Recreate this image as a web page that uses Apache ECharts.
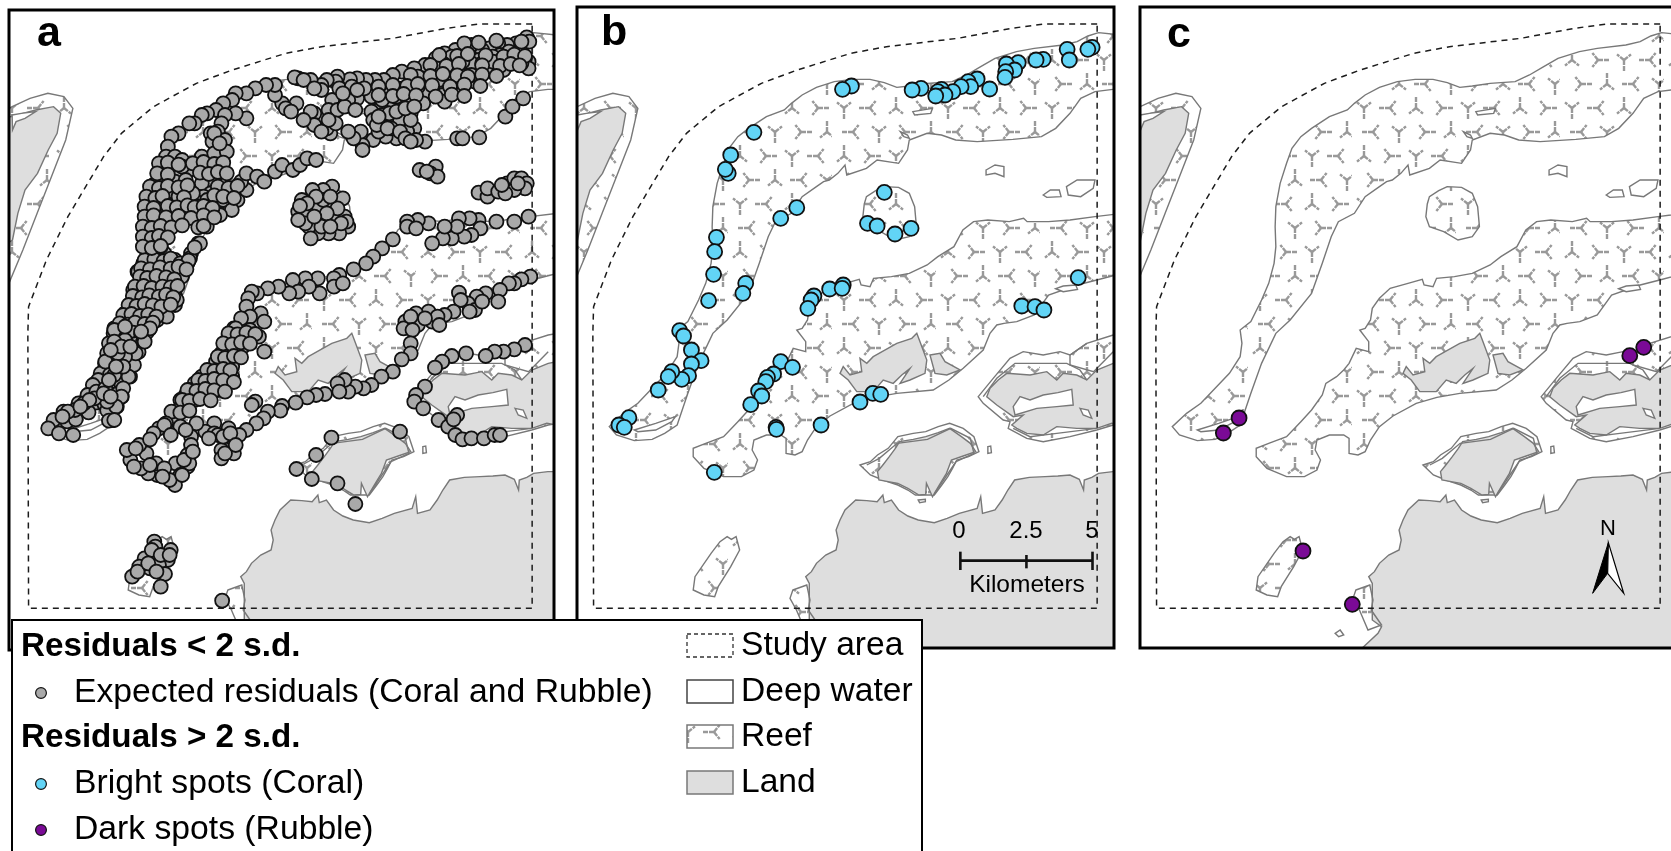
<!DOCTYPE html>
<html><head><meta charset="utf-8"><title>Residual maps</title>
<style>html,body{margin:0;padding:0;background:#fff}#c{width:1671px;height:851px}</style>
<script src="https://cdn.jsdelivr.net/npm/echarts@6/dist/echarts.min.js"></script></head>
<body><div id="c"></div>
<script>
// Map units: x 2.8 per pixel, y 3 per pixel, shared by all three panels.
const panelLabels = ['a','b','c'];
const legendHeaders = ['Residuals < 2 s.d.','Residuals > 2 s.d.'];
const legendPoints = ['Expected residuals (Coral and Rubble)','Bright spots (Coral)','Dark spots (Rubble)'];
const legendAreas = ['Study area','Deep water','Reef','Land'];
const scaleLabels = ['0','2.5','5'];

const studyArea = [[1490,72],[1340,72],[1250,85],[1100,115],[900,140],[800,160],[650,210],[550,250],[430,320],[340,400],[290,470],[240,560],[190,650],[130,780],[80,920],[78,1000],[80,1825],[1490,1825],[1490,72]];

const reefNorth = [[1560,105],[1494,98],[1464,108],[1434,125],[1394,135],[1314,145],[1264,155],[1204,175],[1164,200],[1124,225],[1084,245],[1014,250],[964,258],[929,262],[894,248],[854,238],[804,238],[754,245],[704,262],[664,285],[634,310],[614,330],[564,350],[514,385],[484,410],[459,445],[444,490],[426,550],[414,620],[412,680],[414,740],[409,790],[394,850],[374,900],[344,965],[314,990],[319,1030],[314,1070],[284,1120],[244,1165],[204,1210],[164,1240],[124,1280],[144,1305],[194,1322],[244,1318],[279,1300],[314,1275],[344,1180],[374,1090],[414,1000],[454,960],[514,880],[544,790],[569,710],[589,665],[634,640],[664,590],[704,560],[724,545],[740,540],[764,520],[784,495],[789,525],[844,505],[874,480],[934,490],[959,450],[964,420],[1014,400],[1054,405],[1094,420],[1154,425],[1254,418],[1334,410],[1374,385],[1414,340],[1444,295],[1484,275],[1534,268],[1560,268]];
const reefCentral = [[1560,640],[1484,650],[1414,660],[1354,665],[1294,665],[1284,655],[1244,665],[1184,660],[1144,665],[1114,690],[1089,740],[1044,770],[1014,795],[964,820],[914,830],[864,835],[854,860],[829,855],[824,838],[784,850],[734,865],[704,895],[684,925],[679,960],[664,985],[649,990],[674,1025],[674,1055],[639,1045],[619,1090],[604,1110],[584,1130],[554,1150],[544,1185],[514,1230],[484,1265],[444,1310],[394,1330],[359,1345],[359,1370],[389,1405],[444,1430],[494,1430],[529,1410],[539,1380],[524,1350],[529,1320],[564,1305],[604,1305],[619,1315],[619,1360],[644,1365],[664,1355],[679,1320],[704,1280],[742,1248],[807,1210],[865,1192],[929,1180],[1031,1170],[1075,1140],[1115,1105],[1171,1050],[1190,1000],[1209,975],[1229,970],[1265,965],[1314,945],[1354,885],[1434,855],[1489,840],[1560,820]];
const reefRound = [[894,560],[870,572],[844,590],[838,612],[834,650],[844,680],[884,695],[924,720],[964,710],[984,680],[979,620],[964,580],[934,562]];
const reefSouthWest = [[454,1610],[466,1618],[479,1610],[489,1650],[464,1700],[429,1760],[419,1790],[389,1785],[359,1770],[364,1730],[409,1660],[434,1625]];
const reefNorthWest = [[0,340],[34,320],[84,295],[134,280],[179,290],[204,325],[184,420],[144,530],[104,640],[64,750],[25,850],[0,880]];
const reefEastRing = [[1560,1000],[1535,1005],[1461,1030],[1414,1065],[1386,1055],[1339,1065],[1283,1055],[1246,1075],[1199,1135],[1157,1190],[1171,1210],[1227,1260],[1246,1265],[1241,1285],[1293,1315],[1339,1325],[1414,1310],[1489,1290],[1535,1275],[1560,1270]];
const reefMiddleRing = [[826,1395],[855,1385],[875,1365],[905,1345],[932,1310],[975,1300],[1010,1295],[1045,1280],[1077,1270],[1115,1285],[1145,1310],[1159,1355],[1130,1370],[1097,1380],[1085,1405],[1072,1430],[1055,1455],[1034,1485],[981,1485],[960,1470],[932,1455],[890,1440],[855,1425]];
const reefCoastStrip = [[638,1770],[677,1755],[686,1800],[681,1830],[710,1875],[672,1890],[648,1830],[630,1795]];
const islets = [
  [[1179,510],[1204,495],[1229,500],[1229,530],[1204,520],[1179,525]],
  [[1434,540],[1484,540],[1479,565],[1444,590],[1409,585],[1404,560]],
  [[1339,585],[1359,570],[1384,570],[1389,590],[1349,592]],
  [[1184,1340],[1192,1338],[1194,1358],[1184,1360]],
  [[989,1500],[1009,1498],[1009,1505],[993,1508]],
  [[580,1900],[594,1890],[604,1905],[590,1910]]
];
const lagoons = [
  [[974,335],[1029,325],[1024,340],[979,345]],
  [[939,395],[959,405],[964,415],[949,410]],
  [[194,1290],[254,1270],[309,1250],[299,1265],[254,1290],[204,1295]],
  [[1374,866],[1395,858],[1430,855],[1435,868],[1395,875]],
  [[34,345],[60,340],[100,335],[70,355],[45,365],[35,390]],
  [[1255,1220],[1274,1190],[1302,1200],[1339,1185],[1380,1178],[1419,1168],[1423,1215],[1377,1220],[1321,1225],[1260,1245]],
  [[1442,1225],[1465,1230],[1475,1255],[1451,1245]]
];
const landNorthWest = [[0,345],[30,350],[100,330],[150,320],[170,340],[160,400],[135,450],[105,520],[70,570],[50,640],[35,720],[0,745]];
const landPeninsula = [[863,1070],[929,1030],[971,1015],[985,1000],[994,1025],[1013,1080],[1008,1120],[966,1140],[938,1150],[966,1105],[943,1125],[919,1150],[891,1140],[863,1175],[817,1175],[793,1140],[770,1120],[779,1100],[798,1125],[831,1115],[826,1075],[845,1090]];
const landPeninsulaEast = [[1022,1065],[1050,1060],[1064,1085],[1106,1110],[1069,1125],[1036,1120]];
const landEast = [[1181,1190],[1190,1165],[1213,1140],[1237,1120],[1302,1125],[1349,1115],[1377,1140],[1395,1120],[1433,1125],[1461,1140],[1489,1110],[1535,1090],[1560,1085],[1560,1275],[1531,1270],[1489,1285],[1433,1285],[1377,1280],[1339,1305],[1293,1300],[1265,1285],[1251,1275],[1283,1245],[1255,1250],[1209,1215]];
const landMiddle = [[875,1415],[890,1395],[908,1370],[925,1345],[937,1325],[975,1318],[1010,1310],[1045,1298],[1077,1285],[1110,1310],[1135,1330],[1150,1355],[1115,1368],[1082,1380],[1075,1400],[1068,1420],[1048,1455],[1029,1490],[1012,1450],[1010,1483],[991,1485],[960,1465],[932,1450],[905,1445],[879,1440]];
const landSouth = [[1560,1415],[1534,1415],[1494,1420],[1475,1432],[1454,1440],[1452,1470],[1440,1438],[1414,1425],[1380,1428],[1344,1430],[1300,1432],[1259,1440],[1240,1470],[1224,1500],[1204,1530],[1169,1540],[1164,1490],[1154,1525],[1104,1540],[1070,1555],[1034,1568],[989,1560],[960,1548],[934,1530],[914,1500],[894,1508],[890,1485],[874,1505],[845,1502],[814,1500],[784,1530],[770,1560],[759,1590],[765,1620],[759,1650],[730,1665],[704,1690],[690,1715],[674,1730],[684,1750],[684,1860],[710,1880],[700,1900],[650,1950],[1560,1950]];
const coastRings = [
  [[1171,1190],[1209,1135],[1260,1090],[1339,1090],[1405,1090],[1442,1110],[1461,1140]],
  [[1255,1285],[1302,1310],[1377,1300],[1489,1285]],
  [[1461,1030],[1414,1065],[1414,1095],[1480,1115],[1535,1055]],
  [[845,1395],[880,1375],[930,1330],[1015,1318],[1080,1285],[1135,1315],[1145,1360],[1095,1385],[1060,1440],[1035,1480]]
];
const scaleBar = [[[1107,1682],[1477,1682]],[[1107,1655],[1107,1710]],[[1292,1665],[1292,1705]],[[1477,1655],[1477,1710]]];
const northArrowLeft = [[1345,1628],[1301,1780],[1343,1720]];
const northArrowRight = [[1345,1628],[1388,1780],[1343,1720]];

const expectedResiduals = [
[1475,112],[1482,125],[1445,130],[1420,135],[1395,130],[1370,145],[1350,150],[1320,135],[1300,155],[1275,150],[1245,160],[1220,175],[1190,195],[1160,205],[1125,215],[1100,225],[1075,240],[1050,240],[1025,240],[1000,235],[980,238],[945,230],[940,245],[915,240],[900,255],[870,240],[835,235],[825,232],[850,240],
[1480,185],[1470,175],[1440,185],[1410,210],[1385,195],[1360,205],[1335,220],[1305,210],[1270,210],[1240,215],[1215,225],[1190,240],[1170,230],[1150,270],[1130,265],[1115,265],[1085,285],[1040,290],[1000,295],[975,300],[930,300],[900,270],[880,265],[950,265],[985,260],[1020,265],[1060,260],
[1480,205],[1450,160],[1425,155],[1400,165],[1380,170],[1340,180],[1320,190],[1295,185],[1265,170],[1240,190],[1330,245],[1300,240],[1275,245],[1250,250],[1225,265],[1200,275],[1240,285],[1245,305],[1185,310],[1150,310],[1120,320],[1090,320],[1060,330],[1040,335],[1045,360],[1075,365],[1100,350],[1130,345],[1150,340],[1120,360],[1160,385],[1140,395],[1110,415],[1080,410],[1045,420],[1015,435],[1015,450],[1010,395],[990,415],[975,395],[925,400],[915,385],[905,350],[880,340],[870,335],[880,375],[850,360],[920,330],[945,330],[965,320],[995,330],[830,310],[790,310],[800,325],[815,335],[770,285],[770,255],[745,255],[715,265],[690,280],[660,280],[650,300],[625,310],[605,330],[580,340],[565,345],[545,370],[530,370],[690,355],[660,340],[630,345],[620,370],[610,395],[590,400],[595,425],[630,420],[500,400],[480,410],[470,440],[465,470],[490,470],[510,480],[450,500],[445,525],[500,515],[530,510],[565,470],[600,460],[635,455],[610,500],[600,545],[565,550],[590,580],[570,590],[545,600],[510,570],[490,545],[430,555],[415,600],[450,620],[480,590],[480,640],[520,655],[555,620],[580,625],[610,640],[645,625],[665,600],[645,570],[690,570],[675,545],[690,520],[720,530],[740,545],[770,515],[790,495],[820,510],[840,495],[860,475],[885,480],[410,655],[440,670],[470,690],[410,705],[440,720],[460,760],[420,770],[400,800],[385,815],[445,790],[470,810],[490,830],[510,825],[525,790],[535,760],[555,730],[490,780],[385,870],[420,850],[450,840],[440,890],[490,885],[490,915],[460,945],[430,935],[395,910],[350,940],[420,975],[385,960],[320,985],
[430,600],[450,580],[465,610],[500,620],[530,600],[420,630],[440,650],[460,660],[425,685],[445,700],[430,745],[450,740],[410,785],[430,810],[415,830],[440,820],[400,850],[380,890],[410,885],[425,905],[465,860],[470,895],[405,940],[440,960],[365,965],[340,975],[510,500],[470,500],[520,540],[540,580],[500,590],[580,600],[600,610],[625,600],[530,630],[495,660],[600,400],[615,430],[1210,250],[1230,240],[1260,230],[1290,225],[1320,225],[1350,190],[1380,185],[1430,175],[1460,190],[1215,200],[1230,195],[1170,260],[1095,300],[1070,300],[1110,290],[1145,290],[1000,270],[960,280],[1150,360],[1095,385],[1060,395],[940,370],[920,360],[900,395],
[420,610],[415,660],[406,730],[420,770],[401,790],[387,815],[373,870],[387,870],[355,940],[322,990],[317,1020],[294,1090],[285,1140],[317,1260],[649,630],[616,645],[579,680],[560,730],[532,775],[509,830],[490,860],[495,900],[467,950],[420,985],[373,1095],[364,1130],[341,1190],[327,1220],
[405,780],[432,778],[458,783],[478,776],[505,790],[528,782],[395,805],[420,808],[448,802],[478,806],[500,800],[522,808],[392,830],[412,834],[438,828],[465,832],[488,838],[378,860],[402,858],[425,864],[455,860],[478,862],[497,858],[372,888],[398,892],[418,886],[445,890],[465,884],[485,892],[360,915],[382,918],[405,912],[428,916],[452,920],[478,914],[345,945],[368,942],[392,948],[415,944],[438,950],[335,970],[358,974],[378,968],[405,972],[428,968],[318,1000],[345,1004],[372,998],[395,1002],[412,996],[305,1030],[330,1034],[355,1028],[380,1032],[400,1026],[300,1060],[322,1064],[345,1058],[368,1062],[388,1056],[305,1090],[328,1094],[350,1088],[372,1092],[282,1120],[308,1124],[335,1118],[352,1122],[268,1150],[292,1154],[318,1148],[340,1152],[255,1180],[278,1184],[302,1178],[328,1182],[220,1210],[245,1214],[268,1208],[292,1212],[318,1206],[178,1235],[200,1239],[225,1233],[248,1237],[300,1231],[165,1260],[188,1264],[212,1258],[305,1262],
[445,490],[470,488],[500,494],[540,490],[570,486],[600,492],[625,488],[440,520],[470,524],[560,518],[585,522],[610,516],[635,520],[420,560],[445,564],[470,558],[500,562],[525,556],[610,560],[640,564],[665,558],[410,590],[435,594],[455,588],[515,592],[600,586],[625,590],[655,594],[405,620],[430,624],[470,618],[495,622],[525,616],[545,622],[570,618],[595,624],[405,650],[430,646],[465,652],[500,648],[535,654],[570,646],[600,652],[400,680],[425,684],[450,678],[480,682],[510,676],[555,682],[570,678],[400,710],[425,714],[445,708],[470,712],[400,740],[425,744],[450,738],[545,742],
[1460,125],[1390,122],[1340,128],[1300,130],[1230,165],[1280,168],[1310,162],[1360,166],[1410,170],[1440,164],[1470,168],[1205,195],[1250,198],[1285,192],[1350,196],[1400,198],[1430,192],[1455,196],[1150,225],[1205,228],[1240,222],[1280,226],[1310,230],[1350,224],[1390,228],[1100,255],[1140,258],[1170,252],[1210,256],[1260,260],[1300,254],[1345,258],[1060,285],[1100,288],[1130,282],[1165,286],[1220,290],[1265,284],[1300,288],[1070,345],[1090,340],[1110,335],[1135,325],[1160,320],[1055,375],[1085,385],[1120,395],[1135,415],[1060,350],
[930,560],[905,570],[875,570],[845,600],[960,595],[885,620],[930,625],[835,635],[965,650],[905,655],[860,640],[935,660],[880,680],[975,680],[950,700],[920,700],[890,700],[865,680],[870,715],[905,600],[945,625],[855,670],[835,660],[900,680],[970,665],[925,590],[885,590],[860,610],[840,618],[915,640],[880,650],[955,670],[925,680],
[1175,510],[1220,500],[1205,520],[1225,530],[1195,515],
[1340,578],[1365,590],[1365,565],[1395,575],[1420,550],[1440,535],[1460,535],[1475,550],[1470,565],[1440,570],[1415,580],[1405,555],[1450,550],
[1280,415],[1295,415],[1342,412],[1415,350],[1435,320],[1465,295],[1190,425],[1165,420],[1150,425],
[1480,650],[1440,665],[1390,665],[1340,660],[1315,655],[1285,655],[1345,685],[1320,705],[1300,710],[1265,715],[1240,715],[1210,730],[1280,680],[1245,680],[1200,670],[1170,660],[1140,665],[1140,680],[1165,685],[1100,718],[1070,745],[1045,770],[1025,790],[990,808],[950,825],[935,835],[935,860],[960,850],[890,835],[895,880],[855,835],[820,840],[865,860],[835,875],[810,880],[780,860],[750,865],[720,880],[705,875],[695,895],[690,920],[730,940],[700,950],[675,955],[740,965],[655,985],
[1485,830],[1460,838],[1440,850],[1425,850],[1400,870],[1395,905],[1360,880],[1335,890],[1310,910],[1285,878],[1290,900],[1270,935],[1245,945],[1200,935],[1165,940],[1135,965],[1210,965],[1170,975],[1130,985],[1330,930],[1350,905],[1315,935],[1225,950],[1190,955],[1150,950],[1230,975],
[320,990],[350,1020],[320,1025],[420,985],[405,1025],[375,1095],[295,1085],[360,1130],[320,1125],[275,1140],[345,1165],[340,1190],[260,1155],[245,1185],[270,1175],[325,1220],[235,1210],[210,1230],[190,1235],[150,1260],[320,1260],[135,1285],[165,1300],[205,1305],[300,1205],[265,1195],[295,1165],[380,1060],[350,1070],[330,1060],[350,980],[395,995],[340,1040],[365,1040],[310,1050],[345,1100],[325,1100],[305,1140],[290,1180],[250,1200],[225,1220],[175,1250],[310,1190],
[660,985],[640,1005],[700,990],[725,1010],[740,1055],[630,1040],[660,1050],[605,1085],[640,1080],[625,1100],[590,1115],[565,1130],[650,1130],[635,1150],[545,1150],[590,1160],[610,1170],[530,1170],[505,1200],[545,1200],[580,1185],[500,1230],[485,1250],[715,1205],[705,1215],[670,1010],[680,1040],[620,1060],[650,1100],[610,1130],[570,1160],[535,1190],[520,1185],[555,1175],
[640,1000],[665,1003],[690,998],[715,1002],[625,1030],[650,1033],[675,1027],[700,1031],[610,1070],[630,1074],[655,1068],[675,1072],[580,1110],[600,1113],[625,1107],[645,1111],[555,1140],[575,1143],[600,1137],[625,1141],[655,1146],[525,1170],[550,1173],[575,1167],[600,1171],[630,1175],[510,1200],[530,1203],[560,1197],[590,1201],[480,1235],[505,1238],[530,1232],[465,1270],[445,1285],
[1470,1035],[1440,1048],[1410,1055],[1385,1055],[1360,1068],[1305,1060],[1265,1068],[1238,1085],[1218,1103],[1190,1160],[1165,1185],[1160,1205],[1185,1225],[1228,1260],[1255,1280],[1275,1305],[1295,1318],[1320,1315],[1355,1315],[1385,1305],[1400,1305],[1280,1245],[1270,1258],
[1155,990],[1150,1030],[1150,1060],[1125,1078],[1100,1115],[1068,1130],[1040,1155],[1018,1165],[995,1160],[975,1175],[965,1140],[945,1150],[950,1175],[910,1182],[885,1185],[860,1192],[828,1208],[790,1218],[785,1232],[750,1235],[738,1255],[718,1270],[690,1290],[640,1285],[640,1340],[620,1350],[655,1360],[620,1375],[600,1270],[575,1295],[550,1270],[505,1280],[460,1275],[430,1300],[535,1310],[535,1335],[525,1365],[492,1390],[505,1425],[525,1400],[490,1455],[475,1440],[440,1425],[415,1420],[437,1390],[395,1405],[410,1360],[390,1335],[365,1380],[355,1350],[380,1345],[420,1318],[478,1305],[600,1300],[655,1320],[670,1305],[610,1305],[530,1390],[460,1405],[510,1425],[625,1310],[645,1300],[630,1360],[660,1335],[515,1380],[540,1355],[375,1400],[455,1430],[420,1395],[520,1290],[585,1315],
[928,1313],[885,1365],[830,1407],[873,1437],[945,1450],[1120,1295],[995,1512],
[432,1625],[478,1650],[470,1680],[405,1675],[445,1695],[420,1705],[390,1700],[370,1730],[462,1722],[450,1760],[435,1640],[385,1715],[622,1802],[425,1650],[415,1690],[450,1665],[438,1715],[475,1665]
];
const brightSpots = [
[1476,142],[1464,148],[1406,148],[1412,180],[1339,178],[1319,180],[1269,188],[1236,192],[1259,210],[1234,215],[1232,232],[1189,267],[1154,237],[1129,245],[1136,260],[1109,260],[1086,275],[1054,268],[1044,275],[1064,285],[1038,288],[997,265],[972,270],[802,258],[777,268],[529,397],[464,465],[457,520],[449,508],[649,623],[604,655],[894,577],[847,670],[874,678],[969,685],[924,702],[424,712],[419,755],[416,823],[506,850],[498,880],[402,902],[697,888],[689,900],[680,925],[741,867],[779,855],[776,865],[1437,833],[1279,918],[1316,920],[1341,930],
[321,992],[332,1008],[354,1050],[381,1082],[354,1092],[346,1127],[327,1138],[299,1115],[289,1130],[261,1170],[179,1253],[151,1275],[166,1282],[604,1085],[637,1102],[584,1122],[567,1132],[562,1145],[542,1173],[551,1188],[520,1214],[591,1282],[592,1288],[717,1275],[826,1206],[862,1180],[884,1183],[418,1417]
];
const darkSpots = [[1444,1042],[1405,1067],[311,1254],[267,1299],[490,1653],[628,1813]];

const OUTLINE = '#787878', LAND = '#dedede', DASH = '#1c1c1c';
const COLORS = {grey:'#a9a9a9', blue:'#62d4f6', purple:'#7a0a96'};

function makeHatch(){
  const t = document.createElement('canvas'); t.width = 104; t.height = 96;
  const g = t.getContext('2d');
  g.strokeStyle = '#999'; g.lineWidth = 2.4; g.setLineDash([5,1]); g.lineCap = 'butt';
  const turns = [1.57,3.14,-1.57,0, 3.14,1.57,0,-1.57, -1.57,0,1.57,3.14, 0,-1.57,3.14,1.57];
  let k = 0;
  for(let r=0;r<4;r++) for(let c=0;c<4;c++){
    const cx = 12+c*26+(r%2?9:0), cy = 12+r*24, a = turns[k++];
    const arms = [[a,11],[a+2.25,9],[a-2.25,9]];
    arms.forEach(m=>{ g.beginPath(); g.moveTo(cx,cy); g.lineTo(cx+m[1]*Math.cos(m[0]),cy+m[1]*Math.sin(m[0])); g.stroke(); });
  }
  return t;
}
const hatch = makeHatch();

const frames = [
 {x0:9, x1:554, y0:10, y1:650, off:0},
 {x0:577, x1:1114, y0:7, y1:648, off:565},
 {x0:1140, x1:1671, y0:7, y1:648, off:1128}
];
const grid = frames.map(f=>({left:f.x0,top:f.y0,width:f.x1-f.x0,height:f.y1-f.y0,show:false}));
const xAxis = frames.map((f,i)=>({type:'value',gridIndex:i,min:(f.x0-f.off)*2.8,max:(f.x1-f.off)*2.8,show:false}));
const yAxis = frames.map((f,i)=>({type:'value',gridIndex:i,inverse:true,min:f.y0*3,max:f.y1*3,show:false}));

function shapes(name,gridIndex,list,style,z,kind){
  return {type:'custom',name,xAxisIndex:gridIndex,yAxisIndex:gridIndex,coordinateSystem:'cartesian2d',clip:true,silent:true,z,
    animation:false,encode:{x:0,y:1},data:list.map((p,i)=>[p[0][0],p[0][1],i]),
    renderItem(params,api){
      const pts = list[api.value(2)].map(p=>api.coord(p));
      return {type:kind||'polygon',shape:{points:pts},style};
    }};
}
const reefStyle = {fill:{image:hatch,repeat:'repeat'},stroke:OUTLINE,lineWidth:1.4};
const whiteStyle = {fill:'#fff',stroke:OUTLINE,lineWidth:1.4};
const landStyle = {fill:LAND,stroke:OUTLINE,lineWidth:1.4};
const ringStyle = {fill:null,stroke:OUTLINE,lineWidth:1.4};

const series = [];
frames.forEach((f,i)=>{
  series.push(shapes('Land base',i,[landSouth],landStyle,1));
  series.push(shapes('Reef',i,[reefNorthWest,reefEastRing,reefMiddleRing],reefStyle,2));
  series.push(shapes('Land',i,[landNorthWest,landEast,landMiddle],landStyle,3));
  series.push(shapes('Reef',i,[reefNorth,reefCentral,reefRound,reefSouthWest,reefCoastStrip],reefStyle,3));
  series.push(shapes('Land',i,[landPeninsula,landPeninsulaEast],landStyle,4));
  series.push(shapes('Islets',i,islets,whiteStyle,4));
  series.push(shapes('Lagoons',i,lagoons,whiteStyle,4));
  series.push(shapes('Coast',i,coastRings,ringStyle,4,'polyline'));
  series.push({type:'line',name:'Study area',xAxisIndex:i,yAxisIndex:i,data:studyArea,showSymbol:false,silent:true,animation:false,z:5,
    lineStyle:{color:DASH,width:1.5,type:[6,5]}});
});
const dot = (name,i,data,color,size)=>({type:'scatter',name,xAxisIndex:i,yAxisIndex:i,data,symbol:'circle',symbolSize:size,silent:true,animation:false,z:6,clip:true,large:false,progressive:0,
  itemStyle:{color,borderColor:'#111',borderWidth:1.8,opacity:1}});
series.push(dot(legendPoints[0],0,expectedResiduals,COLORS.grey,14));
series.push(dot(legendPoints[1],1,brightSpots,COLORS.blue,15));
series.push(dot(legendPoints[2],2,darkSpots,COLORS.purple,15));
series.push(shapes('Scale bar',1,scaleBar,{fill:null,stroke:'#111',lineWidth:2.6},7,'polyline'));
series.push(shapes('North arrow',2,[northArrowLeft],{fill:'#000',stroke:'#000',lineWidth:1},7));
series.push(shapes('North arrow',2,[northArrowRight],{fill:'#fff',stroke:'#000',lineWidth:1.2},7));

const FONT = '"Liberation Sans", Arial, sans-serif';
const txt = (x,y,text,size,opt)=>({type:'text',z:(opt&&opt.z)||30,silent:true,x,y,style:Object.assign({text,font:((opt&&opt.w)||'normal')+' '+size+'px '+FONT,fill:'#000',verticalAlign:'middle',align:'left'},opt&&opt.s)});
const G = [];
frames.forEach(f=>G.push({type:'rect',z:20,silent:true,shape:{x:f.x0,y:f.y0,width:(f.x1===1671?1690:f.x1)-f.x0,height:f.y1-f.y0},style:{fill:null,stroke:'#000',lineWidth:3}}));
G.push(txt(37,34,panelLabels[0],43,{w:'bold'}),txt(601,33,panelLabels[1],43,{w:'bold'}),txt(1167,35,panelLabels[2],43,{w:'bold'}));
G.push(txt(959,531,scaleLabels[0],24,{s:{align:'center'}}),txt(1026,531,scaleLabels[1],24,{s:{align:'center'}}),txt(1092,531,scaleLabels[2],24,{s:{align:'center'}}));
G.push(txt(1027,585,'Kilometers',24.5,{s:{align:'center'}}));
G.push(txt(1608,529,'N',22,{s:{align:'center'}}));
// legend panel
G.push({type:'rect',z:40,silent:true,shape:{x:12,y:620,width:910,height:250},style:{fill:'#fff',stroke:'#000',lineWidth:2}});
const LZ = 41, rows = [647,693,738,784,830];
G.push(txt(21,rows[0],legendHeaders[0],33.2,{w:'bold',z:LZ}),txt(21,rows[2],legendHeaders[1],33.2,{w:'bold',z:LZ}));
[[rows[1],legendPoints[0],COLORS.grey],[rows[3],legendPoints[1],COLORS.blue],[rows[4],legendPoints[2],COLORS.purple]].forEach(r=>{
  G.push({type:'circle',z:LZ,silent:true,shape:{cx:41,cy:r[0],r:5.4},style:{fill:r[2],stroke:'#111',lineWidth:1.2}});
  G.push(txt(74,r[0],r[1],33.7,{z:LZ}));
});
const sw = [[634,{fill:'#fff',stroke:'#333',lineWidth:1.3,lineDash:[4,3]}],[680,{fill:'#fff',stroke:'#444',lineWidth:1.5}],[725,{fill:{image:hatch,repeat:'repeat'},stroke:OUTLINE,lineWidth:1.5}],[771,{fill:LAND,stroke:OUTLINE,lineWidth:1.5}]];
sw.forEach((s,i)=>{
  G.push({type:'rect',z:LZ,silent:true,shape:{x:687,y:s[0],width:46,height:23},style:s[1]});
  G.push(txt(741,s[0]+12,legendAreas[i],33.6,{z:LZ}));
});

const chart = echarts.init(document.getElementById('c'),null,{renderer:'canvas',width:1671,height:851});
chart.setOption({animation:false,backgroundColor:'#fff',grid,xAxis,yAxis,series,graphic:{elements:G}});
</script></body></html>
